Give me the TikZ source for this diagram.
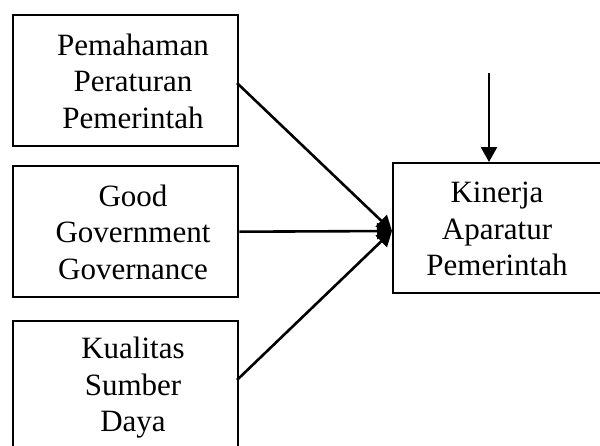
\documentclass[tikz,border=0pt]{standalone}
\usepackage{fontspec}
\setmainfont{Liberation Serif}
\usetikzlibrary{arrows.meta}
\begin{document}
\begin{tikzpicture}[x=1pt,y=-1pt,
  box/.style={draw,line width=2.4pt,minimum width=225pt,inner sep=0pt,anchor=north west},
  lbl/.style={align=center,font=\fontsize{31}{36.5}\selectfont,inner sep=0pt},
  conn/.style={line width=2.6pt,-{Triangle[length=15pt,width=16pt]}}]
\useasboundingbox (0,0) rectangle (600,445);
\clip (0,0) rectangle (600,445);
\node[box,minimum height=131pt] (b1) at (12,14) {};
\node[box,minimum height=131pt] (b2) at (12,165) {};
\node[box,minimum height=140pt] (b3) at (12,320) {};
\node[box,minimum width=208pt,minimum height=130pt] (k) at (392,162) {};
\node[lbl] (t1) at (133,81) {Pemahaman\\Peraturan\\Pemerintah};
\node[lbl] (t2) at (133,232) {Good\\Government\\Governance};
\node[lbl] (t3) at (133,388) {Kualitas\\Sumber\\Daya};
\node[lbl] (tk) at (497,229) {Kinerja\\Aparatur\\Pemerintah};
\coordinate (hit) at (392,231);
\coordinate (top) at (489,73);
\coordinate (s1) at (237,83);
\coordinate (s3) at (237,380);
\draw[conn] (s1) -- (hit);
\draw[conn] (b2.east) -- (hit);
\draw[conn] (s3) -- (hit);
\draw[conn] (top) -- (top |- k.north);
\end{tikzpicture}
\end{document}
